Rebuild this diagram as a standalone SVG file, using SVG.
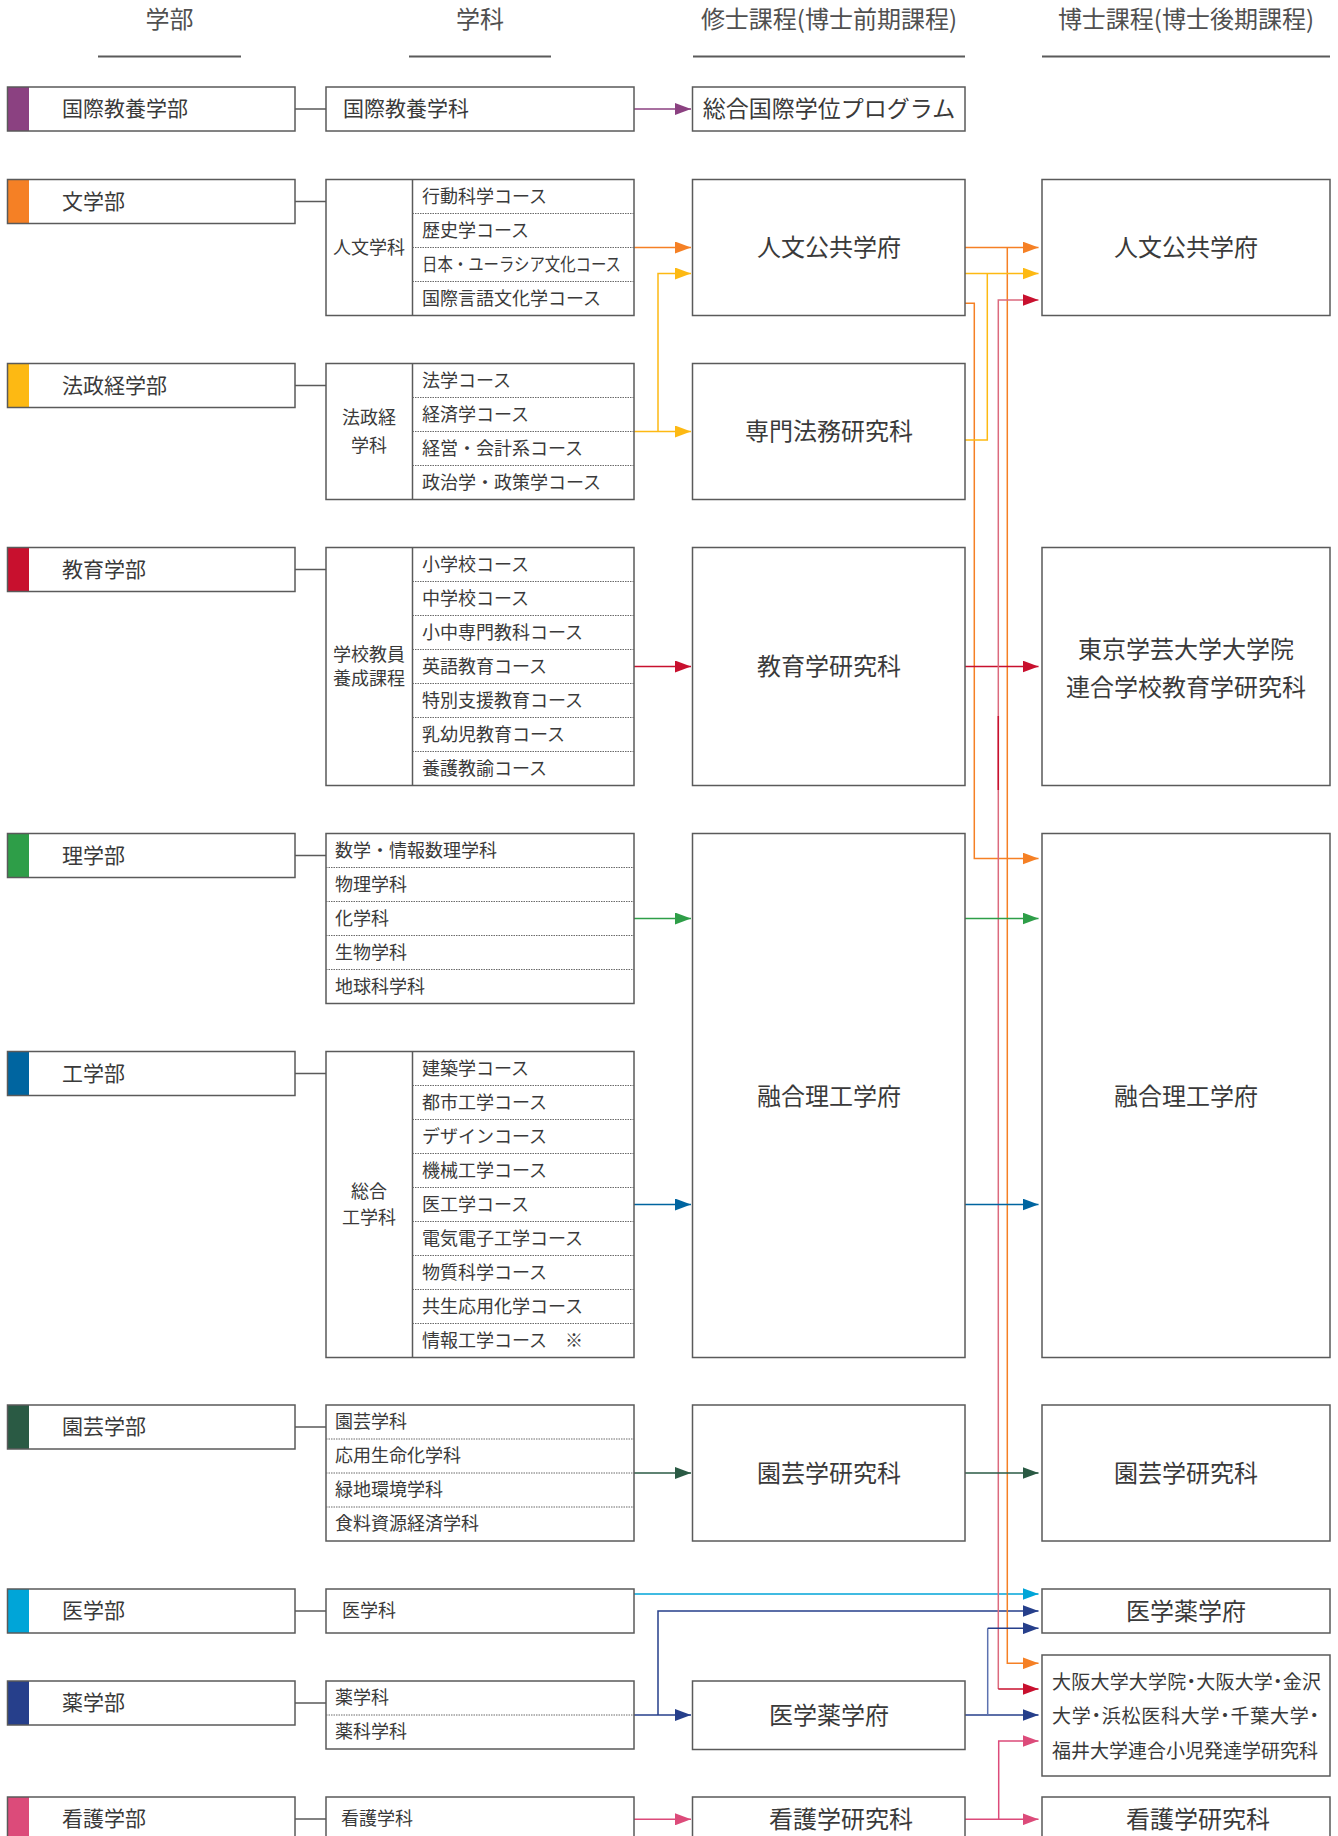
<svg xmlns="http://www.w3.org/2000/svg" width="1338" height="1836" viewBox="0 0 1338 1836">
<style>
text{font-family:"Noto Sans CJK JP","Noto Sans CJK SC",sans-serif;fill:#3a3a3a;transform:translateY(-2px)}
.h{font-size:24px;text-anchor:middle;fill:#505050;font-feature-settings:"palt"}
.hl{stroke:#5a5a5a;stroke-width:2}
.box{fill:#fff;stroke:#5a5a5a;stroke-width:1.5}
.bo{fill:none;stroke:#5a5a5a;stroke-width:1.5}
.dv{stroke:#5a5a5a;stroke-width:1.5}
.dt{stroke:#6a6a6a;stroke-width:1;stroke-dasharray:1.5 1}
.ft{font-size:21px;dominant-baseline:central}
.ct{font-size:18px;dominant-baseline:central}
.lab{font-size:18px;text-anchor:middle;dominant-baseline:central}
.mt{font-size:24px;text-anchor:middle;dominant-baseline:central}
.cn{fill:none;stroke-width:1.5}
.g{stroke:#5a5a5a}
.pu{stroke:#8b4181}.or{stroke:#f58025}.ye{stroke:#fdb913}.re{stroke:#c8102e}.rp{stroke:#dc6a7e}
.gr{stroke:#2e9e48}.bl{stroke:#0065a0}.dg{stroke:#2a5a44}.cy{stroke:#00a5d8}.nv{stroke:#263f8b}.nl{stroke:#5d72b0}.pk{stroke:#dc4b7a}
</style>
<defs>
<marker id="m-pu" viewBox="0 0 16 12" refX="16" refY="6" markerWidth="16" markerHeight="12" markerUnits="userSpaceOnUse" orient="auto"><path d="M0,0L16,6L0,12z" fill="#8b4181"/></marker>
<marker id="m-or" viewBox="0 0 16 12" refX="16" refY="6" markerWidth="16" markerHeight="12" markerUnits="userSpaceOnUse" orient="auto"><path d="M0,0L16,6L0,12z" fill="#f58025"/></marker>
<marker id="m-ye" viewBox="0 0 16 12" refX="16" refY="6" markerWidth="16" markerHeight="12" markerUnits="userSpaceOnUse" orient="auto"><path d="M0,0L16,6L0,12z" fill="#fdb913"/></marker>
<marker id="m-re" viewBox="0 0 16 12" refX="16" refY="6" markerWidth="16" markerHeight="12" markerUnits="userSpaceOnUse" orient="auto"><path d="M0,0L16,6L0,12z" fill="#c8102e"/></marker>
<marker id="m-gr" viewBox="0 0 16 12" refX="16" refY="6" markerWidth="16" markerHeight="12" markerUnits="userSpaceOnUse" orient="auto"><path d="M0,0L16,6L0,12z" fill="#2e9e48"/></marker>
<marker id="m-bl" viewBox="0 0 16 12" refX="16" refY="6" markerWidth="16" markerHeight="12" markerUnits="userSpaceOnUse" orient="auto"><path d="M0,0L16,6L0,12z" fill="#0065a0"/></marker>
<marker id="m-dg" viewBox="0 0 16 12" refX="16" refY="6" markerWidth="16" markerHeight="12" markerUnits="userSpaceOnUse" orient="auto"><path d="M0,0L16,6L0,12z" fill="#2a5a44"/></marker>
<marker id="m-cy" viewBox="0 0 16 12" refX="16" refY="6" markerWidth="16" markerHeight="12" markerUnits="userSpaceOnUse" orient="auto"><path d="M0,0L16,6L0,12z" fill="#00a5d8"/></marker>
<marker id="m-nv" viewBox="0 0 16 12" refX="16" refY="6" markerWidth="16" markerHeight="12" markerUnits="userSpaceOnUse" orient="auto"><path d="M0,0L16,6L0,12z" fill="#263f8b"/></marker>
<marker id="m-pk" viewBox="0 0 16 12" refX="16" refY="6" markerWidth="16" markerHeight="12" markerUnits="userSpaceOnUse" orient="auto"><path d="M0,0L16,6L0,12z" fill="#dc4b7a"/></marker>
</defs>
<rect width="1338" height="1836" fill="#fff"/>

<g id="headers">
<text class="h" x="169.5" y="30">学部</text>
<text class="h" x="480" y="30">学科</text>
<text class="h" x="829" y="30">修士課程(博士前期課程)</text>
<text class="h" x="1186" y="30">博士課程(博士後期課程)</text>
<line class="hl" x1="98" y1="56.5" x2="241" y2="56.5"/>
<line class="hl" x1="409" y1="56.5" x2="551" y2="56.5"/>
<line class="hl" x1="693" y1="56.5" x2="965" y2="56.5"/>
<line class="hl" x1="1042" y1="56.5" x2="1330" y2="56.5"/>
</g>

<g id="connectors">
<path class="cn g" d="M295,109H326M295,201.5H326M295,385.5H326M295,569.5H326M295,855.5H326M295,1073.5H326M295,1427H326M295,1611H326M295,1703H326M295,1819H326"/>
<path class="cn pu" d="M634,109H691" marker-end="url(#m-pu)"/>
<path class="cn or" d="M634,247.5H691" marker-end="url(#m-or)"/>
<path class="cn ye" d="M634,431.5H691" marker-end="url(#m-ye)"/>
<path class="cn ye" d="M658,431.5V273.5H691" marker-end="url(#m-ye)"/>
<path class="cn re" d="M634,666.5H691" marker-end="url(#m-re)"/>
<path class="cn gr" d="M634,918.5H691" marker-end="url(#m-gr)"/>
<path class="cn bl" d="M634,1204.5H691" marker-end="url(#m-bl)"/>
<path class="cn dg" d="M634,1473H691" marker-end="url(#m-dg)"/>
<path class="cn cy" d="M634,1594H1038.5" marker-end="url(#m-cy)"/>
<path class="cn nv" d="M634,1715H691" marker-end="url(#m-nv)"/>
<path class="cn nv" d="M658,1715V1611H1038.5" marker-end="url(#m-nv)"/>
<path class="cn pk" d="M634,1819.3H691" marker-end="url(#m-pk)"/>

<path class="cn or" d="M965,247.5H1038.5" marker-end="url(#m-or)"/>
<path class="cn or" d="M1007.3,247.5V1663.3H1038.5" marker-end="url(#m-or)"/>
<path class="cn or" d="M965,303.3H974.3V858.5H1038.5" marker-end="url(#m-or)"/>
<path class="cn ye" d="M965,273.5H1038.5" marker-end="url(#m-ye)"/>
<path class="cn ye" d="M965,440H987.3V273.5"/>
<path class="cn re" d="M965,666.5H1038.5" marker-end="url(#m-re)"/>
<path class="cn rp" d="M998.3,1689V300H1038.5" marker-end="url(#m-re)"/>
<path class="cn re" d="M998.3,716V790"/>
<path class="cn re" d="M998.3,1689H1038.5" marker-end="url(#m-re)"/>
<path class="cn gr" d="M965,918.5H1038.5" marker-end="url(#m-gr)"/>
<path class="cn bl" d="M965,1204.5H1038.5" marker-end="url(#m-bl)"/>
<path class="cn dg" d="M965,1473H1038.5" marker-end="url(#m-dg)"/>
<path class="cn nv" d="M965,1715H1038.5" marker-end="url(#m-nv)"/>
<path class="cn nl" d="M987.7,1715V1628.3"/>
<path class="cn nv" d="M987.7,1628.3H1038.5" marker-end="url(#m-nv)"/>
<path class="cn pk" d="M965,1819.3H1038.5" marker-end="url(#m-pk)"/>
<path class="cn pk" d="M998.7,1819.3V1741H1038.5" marker-end="url(#m-pk)"/>
</g>

<!-- Faculties -->
<g id="fac-kokusai"><rect x="7.5" y="87" width="21.5" height="44" fill="#8b4181"/><rect class="bo" x="7.5" y="87" width="287.5" height="44"/><text class="ft" x="62" y="109">国際教養学部</text></g>
<g id="fac-bun"><rect x="7.5" y="179.5" width="21.5" height="44" fill="#f58025"/><rect class="bo" x="7.5" y="179.5" width="287.5" height="44"/><text class="ft" x="62" y="201.5">文学部</text></g>
<g id="fac-hosei"><rect x="7.5" y="363.5" width="21.5" height="44" fill="#fdb913"/><rect class="bo" x="7.5" y="363.5" width="287.5" height="44"/><text class="ft" x="62" y="385.5">法政経学部</text></g>
<g id="fac-kyoiku"><rect x="7.5" y="547.5" width="21.5" height="44" fill="#c8102e"/><rect class="bo" x="7.5" y="547.5" width="287.5" height="44"/><text class="ft" x="62" y="569.5">教育学部</text></g>
<g id="fac-ri"><rect x="7.5" y="833.5" width="21.5" height="44" fill="#2e9e48"/><rect class="bo" x="7.5" y="833.5" width="287.5" height="44"/><text class="ft" x="62" y="855.5">理学部</text></g>
<g id="fac-ko"><rect x="7.5" y="1051.5" width="21.5" height="44" fill="#0065a0"/><rect class="bo" x="7.5" y="1051.5" width="287.5" height="44"/><text class="ft" x="62" y="1073.5">工学部</text></g>
<g id="fac-engei"><rect x="7.5" y="1405" width="21.5" height="44" fill="#2a5a44"/><rect class="bo" x="7.5" y="1405" width="287.5" height="44"/><text class="ft" x="62" y="1427">園芸学部</text></g>
<g id="fac-i"><rect x="7.5" y="1589" width="21.5" height="44" fill="#00a5d8"/><rect class="bo" x="7.5" y="1589" width="287.5" height="44"/><text class="ft" x="62" y="1611">医学部</text></g>
<g id="fac-yaku"><rect x="7.5" y="1681" width="21.5" height="44" fill="#263f8b"/><rect class="bo" x="7.5" y="1681" width="287.5" height="44"/><text class="ft" x="62" y="1703">薬学部</text></g>
<g id="fac-kango"><rect x="7.5" y="1797" width="21.5" height="44" fill="#dc4b7a"/><rect class="bo" x="7.5" y="1797" width="287.5" height="44"/><text class="ft" x="62" y="1819">看護学部</text></g>

<!-- Departments -->
<g id="dep-kokusai"><rect class="box" x="326" y="87" width="308" height="44"/><text class="ft" x="343" y="109">国際教養学科</text></g>
<g id="dep-jinbun"><rect class="box" x="326" y="179.5" width="308" height="136"/>
<line class="dv" x1="412.5" y1="179.5" x2="412.5" y2="315.5"/>
<path class="dt" d="M412.5,213.5H634M412.5,247.5H634M412.5,281.5H634"/>
<text class="lab" x="369" y="247.5">人文学科</text>
<text class="ct" x="422" y="196.5">行動科学コース</text>
<text class="ct" x="422" y="230.5">歴史学コース</text>
<text class="ct" x="422" y="264.5" textLength="199" lengthAdjust="spacingAndGlyphs">日本・ユーラシア文化コース</text>
<text class="ct" x="422" y="298.5">国際言語文化学コース</text></g>
<g id="dep-hosei"><rect class="box" x="326" y="363.5" width="308" height="136"/>
<line class="dv" x1="412.5" y1="363.5" x2="412.5" y2="499.5"/>
<path class="dt" d="M412.5,397.5H634M412.5,431.5H634M412.5,465.5H634"/>
<text class="lab" x="369" y="418">法政経</text><text class="lab" x="369" y="446">学科</text>
<text class="ct" x="422" y="380.5">法学コース</text>
<text class="ct" x="422" y="414.5">経済学コース</text>
<text class="ct" x="422" y="448.5">経営・会計系コース</text>
<text class="ct" x="422" y="482.5">政治学・政策学コース</text></g>
<g id="dep-kyoiku"><rect class="box" x="326" y="547.5" width="308" height="238"/>
<line class="dv" x1="412.5" y1="547.5" x2="412.5" y2="785.5"/>
<path class="dt" d="M412.5,581.5H634M412.5,615.5H634M412.5,649.5H634M412.5,683.5H634M412.5,717.5H634M412.5,751.5H634"/>
<text class="lab" x="369" y="654.5">学校教員</text><text class="lab" x="369" y="678.5">養成課程</text>
<text class="ct" x="422" y="564.5">小学校コース</text>
<text class="ct" x="422" y="598.5">中学校コース</text>
<text class="ct" x="422" y="632.5">小中専門教科コース</text>
<text class="ct" x="422" y="666.5">英語教育コース</text>
<text class="ct" x="422" y="700.5">特別支援教育コース</text>
<text class="ct" x="422" y="734.5">乳幼児教育コース</text>
<text class="ct" x="422" y="768.5">養護教諭コース</text></g>
<g id="dep-ri"><rect class="box" x="326" y="833.5" width="308" height="170"/>
<path class="dt" d="M326,867.5H634M326,901.5H634M326,935.5H634M326,969.5H634"/>
<text class="ct" x="335" y="850.5">数学・情報数理学科</text>
<text class="ct" x="335" y="884.5">物理学科</text>
<text class="ct" x="335" y="918.5">化学科</text>
<text class="ct" x="335" y="952.5">生物学科</text>
<text class="ct" x="335" y="986.5">地球科学科</text></g>
<g id="dep-ko"><rect class="box" x="326" y="1051.5" width="308" height="306"/>
<line class="dv" x1="412.5" y1="1051.5" x2="412.5" y2="1357.5"/>
<path class="dt" d="M412.5,1085.5H634M412.5,1119.5H634M412.5,1153.5H634M412.5,1187.5H634M412.5,1221.5H634M412.5,1255.5H634M412.5,1289.5H634M412.5,1323.5H634"/>
<text class="lab" x="369" y="1191.5">総合</text><text class="lab" x="369" y="1217.5">工学科</text>
<text class="ct" x="422" y="1068.5">建築学コース</text>
<text class="ct" x="422" y="1102.5">都市工学コース</text>
<text class="ct" x="422" y="1136.5">デザインコース</text>
<text class="ct" x="422" y="1170.5">機械工学コース</text>
<text class="ct" x="422" y="1204.5">医工学コース</text>
<text class="ct" x="422" y="1238.5">電気電子工学コース</text>
<text class="ct" x="422" y="1272.5">物質科学コース</text>
<text class="ct" x="422" y="1306.5">共生応用化学コース</text>
<text class="ct" x="422" y="1340.5">情報工学コース　※</text></g>
<g id="dep-engei"><rect class="box" x="326" y="1405" width="308" height="136"/>
<path class="dt" d="M326,1439H634M326,1473H634M326,1507H634"/>
<text class="ct" x="335" y="1422">園芸学科</text>
<text class="ct" x="335" y="1456">応用生命化学科</text>
<text class="ct" x="335" y="1490">緑地環境学科</text>
<text class="ct" x="335" y="1524">食料資源経済学科</text></g>
<g id="dep-i"><rect class="box" x="326" y="1589" width="308" height="44"/><text class="ct" x="342" y="1611">医学科</text></g>
<g id="dep-yaku"><rect class="box" x="326" y="1681" width="308" height="68"/>
<path class="dt" d="M326,1715H634"/>
<text class="ct" x="335" y="1698">薬学科</text>
<text class="ct" x="335" y="1732">薬科学科</text></g>
<g id="dep-kango"><rect class="box" x="326" y="1797" width="308" height="44"/><text class="ct" x="341" y="1819">看護学科</text></g>

<!-- Master -->
<g id="m-sogo"><rect class="box" x="692.5" y="87" width="272.5" height="44"/><text class="mt" x="829" y="109" style="font-size:23px">総合国際学位プログラム</text></g>
<g id="m-jinbun"><rect class="box" x="692.5" y="179.5" width="272.5" height="136"/><text class="mt" x="829" y="247.5">人文公共学府</text></g>
<g id="m-homu"><rect class="box" x="692.5" y="363.5" width="272.5" height="136"/><text class="mt" x="829" y="431.5">専門法務研究科</text></g>
<g id="m-kyoiku"><rect class="box" x="692.5" y="547.5" width="272.5" height="238"/><text class="mt" x="829" y="666.5">教育学研究科</text></g>
<g id="m-yugo"><rect class="box" x="692.5" y="833.5" width="272.5" height="524"/><text class="mt" x="829" y="1096.5">融合理工学府</text></g>
<g id="m-engei"><rect class="box" x="692.5" y="1405" width="272.5" height="136"/><text class="mt" x="829" y="1473">園芸学研究科</text></g>
<g id="m-iyaku"><rect class="box" x="692.5" y="1681" width="272.5" height="68.5"/><text class="mt" x="829" y="1715">医学薬学府</text></g>
<g id="m-kango"><rect class="box" x="692.5" y="1797" width="272.5" height="60"/><text class="mt" x="841" y="1819">看護学研究科</text></g>

<!-- Doctoral -->
<g id="d-jinbun"><rect class="box" x="1042" y="179.5" width="288" height="136"/><text class="mt" x="1186" y="247.5">人文公共学府</text></g>
<g id="d-gakugei"><rect class="box" x="1042" y="547.5" width="288" height="238"/><text class="mt" x="1186" y="649">東京学芸大学大学院</text><text class="mt" x="1186" y="687">連合学校教育学研究科</text></g>
<g id="d-yugo"><rect class="box" x="1042" y="833.5" width="288" height="524"/><text class="mt" x="1186" y="1096.5">融合理工学府</text></g>
<g id="d-engei"><rect class="box" x="1042" y="1405" width="288" height="136"/><text class="mt" x="1186" y="1473">園芸学研究科</text></g>
<g id="d-iyaku"><rect class="box" x="1042" y="1589" width="288" height="44"/><text class="mt" x="1186" y="1611">医学薬学府</text></g>
<g id="d-rengo"><rect class="box" x="1042" y="1655" width="288" height="121"/>
<text class="ct" x="1052" y="1682" style="font-size:19px;font-feature-settings:'palt'" textLength="269" lengthAdjust="spacing">大阪大学大学院・大阪大学・金沢</text>
<text class="ct" x="1052" y="1716.5" style="font-size:19px;font-feature-settings:'palt'" textLength="267" lengthAdjust="spacing">大学・浜松医科大学・千葉大学・</text>
<text class="ct" x="1052" y="1751" style="font-size:19px;font-feature-settings:'palt'" textLength="266" lengthAdjust="spacing">福井大学連合小児発達学研究科</text></g>
<g id="d-kango"><rect class="box" x="1042" y="1797" width="288" height="60"/><text class="mt" x="1198" y="1819">看護学研究科</text></g>
</svg>
